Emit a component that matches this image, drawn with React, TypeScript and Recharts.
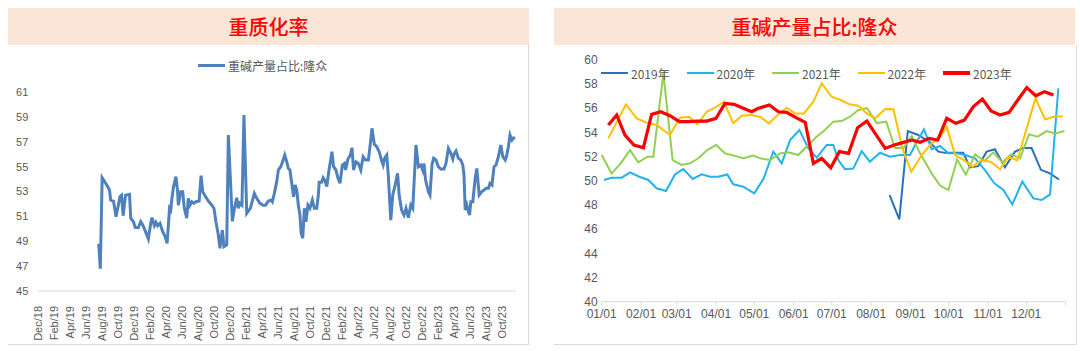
import React from "react";
import { LineChart, Line, XAxis, YAxis } from "recharts";

const LEFT_TITLE = "重质化率";
const RIGHT_TITLE = "重碱产量占比:隆众";
const LEFT_SERIES_NAME = "重碱产量占比:隆众";

// x = months counted from Dec/18
const LEFT_MONTHS = [
  7.55, 7.75, 7.98, 8.34, 8.75, 8.9, 9.05, 9.4, 9.71, 10.0, 10.2, 10.4, 10.6, 10.9, 11.4, 11.55, 11.9, 12.1, 12.5, 12.8,
  13.1, 13.4, 13.75, 14.05, 14.2, 14.5, 14.7, 14.9, 15.2, 15.55, 15.85, 16.1, 16.4, 16.55, 16.7, 16.9, 17.2, 17.4, 17.5,
  17.8, 18.05, 18.25, 18.55, 18.75, 18.95, 19.2, 19.45, 19.7, 20.1, 20.34, 20.55, 20.8, 21.25, 21.7, 21.95, 22.2, 22.5,
  22.7, 23.0, 23.2, 23.55, 23.75, 24.25, 24.5, 24.8, 25.0, 25.2, 25.45, 25.7, 26.05, 26.5, 27.0, 27.3, 27.7, 28.1, 28.4,
  28.75, 29.1, 29.25, 29.5, 29.8, 30.0, 30.3, 30.6, 30.8, 31.05, 31.25, 31.45, 31.7, 31.9, 32.1, 32.3, 32.5, 32.7, 32.85,
  33.05, 33.25, 33.45, 33.7, 33.95, 34.25, 34.5, 34.8, 35.0, 35.1, 35.4, 35.6, 35.8, 36.05, 36.3, 36.7, 36.9, 37.2, 37.4,
  37.7, 38.0, 38.25, 38.4, 38.7, 39.0, 39.2, 39.4, 39.7, 40.0, 40.3, 40.6, 40.9, 41.25, 41.5, 41.7, 42.0, 42.3, 42.6,
  42.9, 43.1, 43.3, 43.55, 43.75, 44.05, 44.3, 44.6, 44.9, 45.1, 45.4, 45.7, 45.95, 46.25, 46.55, 46.8, 47.2, 47.5, 47.8,
  48.05, 48.2, 48.4, 48.75, 48.95, 49.2, 49.4, 49.7, 50.0, 50.3, 50.7, 50.95, 51.25, 51.55, 51.8, 51.95, 52.2, 52.5, 52.8,
  53.05, 53.2, 53.35, 53.55, 53.75, 53.9, 54.05, 54.3, 54.6, 54.8, 55.1, 55.4, 55.7, 55.95, 56.25, 56.45, 56.7, 56.95,
  57.2, 57.5, 57.8, 58.05, 58.35, 58.55, 58.75, 58.95, 59.2, 59.4, 59.55,
];
const LEFT_VALUES = [
  48.8, 46.8, 54.1, 53.74, 53.3, 53.1, 52.3, 52.23, 50.97, 51.9, 52.58, 52.7, 51.05, 52.7, 52.77, 50.85, 50.57, 50.12,
  50.09, 50.57, 50.25, 49.77, 49.18, 50.44, 50.9, 50.25, 50.52, 50.25, 50.44, 49.77, 49.37, 48.83, 51.65, 51.5, 52.45,
  53.4, 54.19, 53.1, 51.9, 52.98, 52.98, 51.65, 50.85, 52.45, 51.9, 52.18, 52.05, 52.18, 52.23, 54.27, 52.98, 52.7, 52.23,
  51.9, 51.65, 50.57, 49.5, 48.43, 49.9, 48.56, 48.7, 57.54, 50.6, 51.6, 52.5, 51.65, 52.05, 51.9, 59.15, 51.25, 51.65,
  52.85, 52.45, 52.05, 51.9, 51.9, 52.23, 52.31, 52.18, 52.85, 53.79, 54.73, 54.99, 55.53, 55.93, 55.39, 54.86, 54.73,
  53.52, 52.58, 53.52, 53.12, 51.9, 51.1, 49.64, 49.24, 51.65, 50.57, 51.9, 51.65, 52.31, 51.65, 51.65, 52.72, 53.74,
  53.74, 54.1, 53.92, 53.39, 54.59, 56.2, 54.99, 54.73, 54.19, 53.66, 55.13, 55.26, 54.73, 55.61, 55.93, 56.52, 54.73,
  55.39, 55.26, 54.73, 55.8, 55.53, 55.53, 56.87, 58.08, 56.79, 56.6, 56.2, 55.5, 55.13, 55.7, 55.93, 54.19, 50.7, 52.72,
  53.52, 54.46, 52.72, 51.51, 51.11, 51.65, 50.89, 51.91, 51.65, 56.74, 54.99, 55.13, 54.7, 55.26, 53.92, 52.98, 52.72,
  55.13, 55.67, 55.53, 54.99, 54.8, 54.8, 55.26, 56.47, 56.07, 55.61, 55.99, 56.25, 55.67, 55.53, 55.13, 54.33, 51.51,
  51.91, 51.38, 51.11, 52.18, 52.18, 54.06, 54.86, 52.72, 52.98, 53.12, 53.26, 53.26, 53.66, 53.52, 54.99, 55.13, 55.8,
  56.74, 55.8, 55.53, 55.93, 56.6, 57.54, 57.14, 57.3, 57.2,
];
const LEFT_TICK_LABELS = [
  "Dec/18", "Feb/19", "Apr/19", "Jun/19", "Aug/19", "Oct/19", "Dec/19", "Feb/20", "Apr/20", "Jun/20",
  "Aug/20", "Oct/20", "Dec/20", "Feb/21", "Apr/21", "Jun/21", "Aug/21", "Oct/21", "Dec/21", "Feb/22",
  "Apr/22", "Jun/22", "Aug/22", "Oct/22", "Dec/22", "Feb/23", "Apr/23", "Jun/23", "Aug/23", "Oct/23",
];
const LEFT_Y_TICKS = [45, 47, 49, 51, 53, 55, 57, 59, 61];

// x = day of the year
const YEAR_NAMES = ["2019年", "2020年", "2021年", "2022年", "2023年"];
const YEAR_COLORS = ["#2a70bd", "#22b2ee", "#92d050", "#ffc000", "#ff0000"];
const DAYS_2019 = [226.5, 234.1, 240.8, 248.5, 258.2, 264.8, 270, 277.9, 284.4, 289.7, 296.2, 302.8, 309.3, 317.2, 325.1, 331.6, 338.2, 345.5, 352.6, 359.7];
const VALUES_2019 = [48.8, 46.8, 54.1, 53.8, 53.2, 52.4, 52.3, 52.3, 52.3, 51.1, 51.2, 52.4, 52.6, 51.1, 52.4, 52.7, 52.7, 50.9, 50.6, 50.1];
const DAYS_2020 = [
  1.8, 7.8, 15.7, 22.3, 29.6, 36.7, 43.2, 50.6, 57.6, 64.2, 71.6, 78.6, 85.2, 91.7, 98.8, 103.5, 111.4, 120, 127.2, 135,
  141.6, 148.2, 155.5, 162.6, 169.2, 177, 182.2, 186.1, 191.4, 197.9, 204.5, 211, 218.9, 226.8, 234.7, 242.5, 247.8,
  253.5, 259.6, 266.1, 272.7, 279.2, 285.8, 293.7, 301.5, 308.9, 316, 323, 330.9, 339.6, 346.1, 352.7, 359.2,
];
const VALUES_2020 = [
  50.06, 50.25, 50.25, 50.69, 50.33, 50.06, 49.37, 49.15, 50.52, 50.96, 50.14, 50.52, 50.33, 50.33, 50.52, 49.7, 49.5,
  48.95, 50.14, 52.4, 51.43, 53.36, 54.19, 52.67, 51.9, 52.95, 52.95, 51.71, 50.95, 51.0, 52.45, 51.57, 52.31, 51.98,
  52.12, 52.12, 53.2, 54.25, 52.6, 52.87, 52.26, 52.26, 52.12, 51.85, 50.88, 49.78, 49.23, 48.04, 49.92, 48.54, 48.4,
  48.87, 57.63,
];
const DAYS_2021 = [
  0, 7.8, 14.9, 22.3, 28.8, 35.9, 40.6, 48.5, 55.8, 62.9, 69.5, 76, 83.1, 90, 97, 104.1, 111.4, 119.3, 124.5, 132.4,
  140.3, 146.8, 154.7, 161.2, 169.1, 175.6, 182.2, 188.7, 195.3, 201.9, 208.7, 216.3, 223.8, 230.7, 237.5, 243.9, 250.4,
  259.6, 266.1, 272.7, 279.6, 286.5, 293.7, 301, 308.1, 315.2, 322, 329.1, 336.1, 343, 350, 357.1, 364,
];
const VALUES_2021 = [
  52.12, 50.6, 51.43, 52.53, 51.52, 51.98, 51.98, 58.87, 51.71, 51.3, 51.43, 51.85, 52.53, 52.95, 52.26, 52.07, 51.85,
  52.07, 51.85, 51.71, 52.26, 52.34, 52.12, 52.81, 53.64, 54.19, 54.88, 54.93, 55.29, 55.84, 56.0, 54.76, 54.88, 52.7,
  52.7, 53.69, 52.26, 50.6, 49.6, 49.23, 51.75, 50.5, 52.18, 51.63, 52.34, 51.52, 52.18, 51.85, 53.83, 53.64, 54.1,
  53.91, 54.1,
];
const DAYS_2022 = [
  5.2, 19.1, 27.5, 36.7, 43.2, 53.7, 61.6, 68.9, 75.2, 82.6, 89.1, 96.2, 103.5, 110.1, 117.2, 124.5, 131.6, 139, 145.5,
  152.1, 159.1, 166.5, 173.1, 180.9, 188, 194.8, 201.9, 208.5, 215, 222.9, 229.5, 236.4, 243.6, 251.7, 259.6, 265.5,
  271.4, 278, 284.9, 291.7, 298.5, 306, 313.4, 320, 326.9, 341.2, 348.8, 355.4, 362.8,
];
const VALUES_2022 = [
  53.5, 56.31, 55.15, 54.74, 54.6, 53.77, 55.21, 55.29, 54.66, 55.7, 56.03, 56.53, 54.74, 55.37, 55.43, 55.29, 54.74,
  55.48, 56.03, 55.56, 55.56, 56.53, 58.04, 56.94, 56.67, 56.31, 56.2, 55.56, 55.15, 55.92, 55.9, 52.7, 50.74, 52.12,
  53.09, 53.5, 54.46, 52.12, 51.71, 51.16, 51.67, 51.57, 50.95, 51.98, 51.67, 56.8, 55.06, 55.29, 55.32,
];
const DAYS_2023 = [
  5.2, 11.8, 18.3, 25.4, 32.8, 39.3, 46.4, 53.7, 61.1, 68.2, 75.2, 82.6, 89.9, 97, 104.1, 111.4, 118, 123.2, 131.9, 139,
  145.5, 152.9, 160.1, 166.5, 173.1, 180.2, 187, 194.2, 201.3, 208.6, 216, 223, 230.1, 237.4, 244, 250.4, 257.5, 264.3,
  271.4, 278.5, 285.3, 292.4, 299.5, 306.3, 313.4, 320.5, 327.3, 334.4, 341.5, 348.3, 355.4,
];
const VALUES_2023 = [
  54.6, 55.43, 53.77, 52.95, 52.73, 55.48, 55.7, 55.37, 54.88, 54.88, 54.93, 54.93, 55.15, 56.39, 56.31, 55.98, 55.7,
  55.98, 56.25, 55.7, 55.65, 55.21, 54.82, 51.43, 51.85, 51.07, 52.4, 52.26, 54.38, 54.93, 53.77, 52.67, 52.95, 53.17,
  53.36, 53.17, 53.5, 53.36, 55.15, 54.74, 55.01, 56.12, 56.75, 55.76, 55.43, 55.65, 56.67, 57.69, 57.02, 57.36, 57.08,
];
const MONTH_TICK_DAYS = [0, 31, 59, 90, 120, 151, 181, 212, 243, 273, 304, 334, 365];
const MONTH_TICK_LABELS = ["01/01", "02/01", "03/01", "04/01", "05/01", "06/01", "07/01", "08/01", "09/01", "10/01", "11/01", "12/01", ""];
const RIGHT_Y_TICKS = [40, 42, 44, 46, 48, 50, 52, 54, 56, 58, 60];

const AXIS_FONT = '"Liberation Sans", Arial, "Noto Sans CJK SC", sans-serif';
const CJK_FONT = '"Noto Sans CJK SC", "Liberation Sans", sans-serif';
const TEXT_GRAY = "#595959";
const GRID_GRAY = "#d9d9d9";

const leftData = LEFT_MONTHS.map((m, i) => ({ m, v: LEFT_VALUES[i] }));
const yearDays = [DAYS_2019, DAYS_2020, DAYS_2021, DAYS_2022, DAYS_2023];
const yearValues = [VALUES_2019, VALUES_2020, VALUES_2021, VALUES_2022, VALUES_2023];
const yearData = yearDays.map((days, k) => days.map((d, i) => ({ d, v: yearValues[k][i] })));

function RotatedTick(props: any) {
  const { x, y, payload } = props;
  const label = LEFT_TICK_LABELS[Math.round(payload.value / 2)] ?? "";
  return (
    <g transform={`translate(${x},${y})`}>
      <text transform="rotate(-90)" x={-7} y={0} dy="0.35em" textAnchor="end" fill={TEXT_GRAY} fontSize={11} fontFamily={AXIS_FONT}>
        {label}
      </text>
    </g>
  );
}

function Title({ text, left, width }: { text: string; left: number; width: number }) {
  return (
    <div
      style={{
        position: "absolute",
        left,
        top: 8,
        width,
        height: 37,
        background: "#fbe5d6",
        color: "#ff0000",
        fontFamily: CJK_FONT,
        fontSize: 20,
        fontWeight: 500,
        lineHeight: "37px",
        textAlign: "center",
      }}
    >
      {text}
    </div>
  );
}

function LegendItem({ color, label, left, top, width }: { color: string; label: string; left: number; top: number; width: number }) {
  return (
    <div style={{ position: "absolute", left, top, display: "flex", alignItems: "center", height: 16 }}>
      <div style={{ width: 27, height: width, background: color, marginRight: 3 }} />
      <span style={{ fontSize: 12, color: TEXT_GRAY, fontFamily: CJK_FONT, whiteSpace: "nowrap" }}>{label}</span>
    </div>
  );
}

export default function App() {
  const leftTicks = LEFT_TICK_LABELS.map((_, i) => i * 2);
  return (
    <div style={{ position: "relative", width: 1080, height: 351, background: "#fff", overflow: "hidden" }}>
      <style>{"body{margin:0}"}</style>

      {/* left panel */}
      <div style={{ position: "absolute", left: 8, top: 45, width: 520, height: 299, borderRight: `1px solid ${GRID_GRAY}`, borderBottom: `1px solid ${GRID_GRAY}` }} />
      <Title text={LEFT_TITLE} left={8} width={521} />
      <LegendItem color="#4f81bd" label={LEFT_SERIES_NAME} left={198} top={57} width={3} />
      <div style={{ position: "absolute", left: 8, top: 45 }}>
        <LineChart width={521} height={300} data={leftData} margin={{ top: 47, right: 13, left: 0, bottom: 0 }}>
          <XAxis
            dataKey="m"
            type="number"
            domain={[0, 59.7]}
            ticks={leftTicks}
            interval={0}
            height={54}
            tick={<RotatedTick />}
            tickLine={false}
            axisLine={{ stroke: GRID_GRAY }}
            allowDataOverflow
          />
          <YAxis
            type="number"
            domain={[45, 61]}
            ticks={LEFT_Y_TICKS}
            interval={0}
            width={30.3}
            axisLine={false}
            tickLine={false}
            tickSize={0}
            tickMargin={10}
            tick={{ fill: TEXT_GRAY, fontSize: 11, fontFamily: AXIS_FONT }}
          />
          <Line dataKey="v" type="linear" stroke="#4f81bd" strokeWidth={3} dot={false} isAnimationActive={false} />
        </LineChart>
      </div>

      {/* right panel */}
      <div style={{ position: "absolute", left: 554, top: 45, width: 522, height: 299, borderRight: `1px solid ${GRID_GRAY}`, borderBottom: `1px solid ${GRID_GRAY}` }} />
      <Title text={RIGHT_TITLE} left={554} width={521} />
      <div style={{ position: "absolute", left: 554, top: 45 }}>
        <LineChart width={523} height={300} margin={{ top: 14.7, right: 11.3, left: 0, bottom: 0 }}>
          <XAxis
            dataKey="d"
            type="number"
            domain={[0, 365]}
            ticks={MONTH_TICK_DAYS}
            interval={0}
            height={43.3}
            tickFormatter={(v: number) => MONTH_TICK_LABELS[MONTH_TICK_DAYS.indexOf(v)] ?? ""}
            tickSize={4}
            tickMargin={4}
            tickLine={{ stroke: GRID_GRAY }}
            axisLine={{ stroke: GRID_GRAY }}
            tick={{ fill: TEXT_GRAY, fontSize: 12, fontFamily: AXIS_FONT }}
            allowDuplicatedCategory={false}
          />
          <YAxis
            type="number"
            domain={[40, 60]}
            ticks={RIGHT_Y_TICKS}
            interval={0}
            width={47.7}
            axisLine={false}
            tickLine={false}
            tickSize={0}
            tickMargin={4}
            tick={{ fill: TEXT_GRAY, fontSize: 12, fontFamily: AXIS_FONT }}
          />
          {yearData.map((data, k) => (
            <Line
              key={YEAR_NAMES[k]}
              data={data}
              dataKey="v"
              name={YEAR_NAMES[k]}
              type="linear"
              stroke={YEAR_COLORS[k]}
              strokeWidth={k === 4 ? 3.2 : 2}
              dot={false}
              isAnimationActive={false}
            />
          ))}
        </LineChart>
      </div>
      {YEAR_NAMES.map((name, k) => (
        <LegendItem key={name} color={YEAR_COLORS[k]} label={name} left={601 + k * 85.5} top={65} width={k === 4 ? 3.5 : 2.5} />
      ))}
    </div>
  );
}
